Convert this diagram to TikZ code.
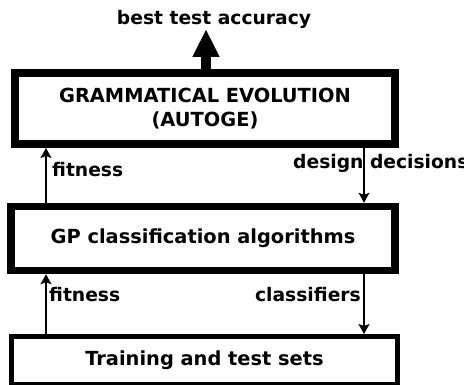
\documentclass[tikz,border=0pt]{standalone}
\usepackage{fontspec}
\setmainfont{DejaVu Sans}[BoldFont={DejaVu Sans Bold}]
\usetikzlibrary{arrows.meta}
\begin{document}
\begin{tikzpicture}[x=1pt,y=1pt,
  boxtext/.style={font=\fontsize{19.4}{24}\selectfont\bfseries, align=center},
  lbl/.style={font=\fontsize{18.7}{22}\selectfont\bfseries, inner sep=0pt},
  stage/.style={draw, fill=white, inner sep=0pt, boxtext},
  flow/.style={line width=1.3pt, -{Stealth[length=10pt,width=11pt,inset=2pt]}},
  result/.style={line width=10pt, -{Triangle[length=28pt,width=25pt]}}]
\useasboundingbox (0,0) rectangle (464,-385);
% three stacked stages
\node[stage, line width=8pt, outer sep=4pt, minimum width=380pt, minimum height=71pt]
  (ge) at (205,-108.5) {GRAMMATICAL EVOLUTION\\(AUTOGE)};
\node[stage, line width=7.5pt, outer sep=3.75pt, minimum width=384pt, minimum height=64pt]
  (gp) at (203,-238.5) {GP classification algorithms};
\node[stage, line width=5pt, outer sep=2.5pt, minimum width=386pt, minimum height=48pt]
  (data) at (204.5,-360.5) {Training and test sets};
% columns of the vertical connectors
\coordinate (colL) at (46,0);
\coordinate (colR) at (364,0);
\coordinate (colT) at (206,0);
\coordinate (out) at (206,-29);
% connectors
\draw[result] (ge.north -| colT) -- (out);
\draw[flow] (gp.north -| colL) -- (ge.south -| colL);
\draw[flow] (ge.south -| colR) -- (gp.north -| colR);
\draw[flow] (data.north -| colL) -- (gp.south -| colL);
\draw[flow] (gp.south -| colR) -- (data.north -| colR);
% labels
\node[lbl, anchor=base] (acc) at (214,-25) {best test accuracy};
\node[lbl, anchor=west] (fit1) at (52,-170) {fitness};
\node[lbl, anchor=west] (dd) at (293,-163) {design decisions};
\node[lbl, anchor=west] (fit2) at (49,-295) {fitness};
\node[lbl, anchor=east] (cls) at (361,-295) {classifiers};
\end{tikzpicture}
\end{document}
